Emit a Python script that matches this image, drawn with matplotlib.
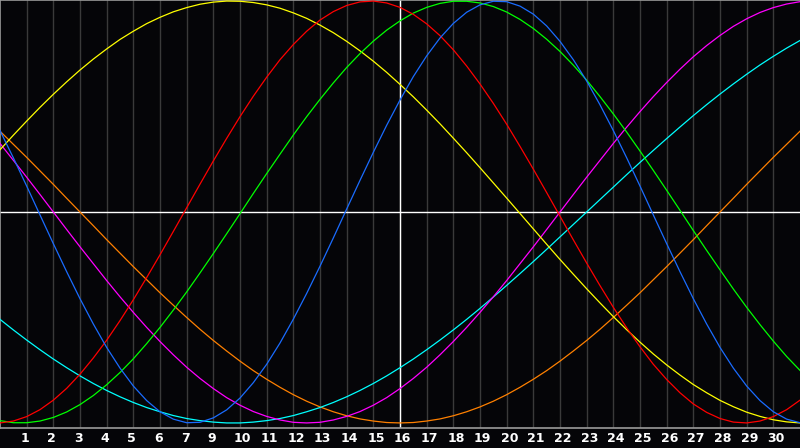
import matplotlib
matplotlib.use('Agg')
import matplotlib.pyplot as plt
from matplotlib.transforms import ScaledTranslation

# half-day steps across the 30 day columns, values in percent (-100..100)
days = [i / 2 for i in range(61)]

yellow = [29.5, 36.4, 43.1, 49.6, 55.8, 61.7, 67.3, 72.5, 77.3, 81.8,
          85.7, 89.3, 92.3, 94.9, 96.9, 98.5, 99.5, 100.0, 99.9, 99.3,
          98.2, 96.6, 94.4, 91.8, 88.6, 85.0, 80.9, 76.4, 71.5, 66.2,
          60.5, 54.6, 48.3, 41.8, 35.0, 28.1, 21.0, 13.8, 6.6, -0.7,
          -8.0, -15.3, -22.5, -29.5, -36.4, -43.1, -49.6, -55.8, -61.7, -67.3,
          -72.5, -77.3, -81.8, -85.7, -89.3, -92.3, -94.9, -96.9, -98.5, -99.5,
          -100.0]
red = [-100.0, -99.1, -97.0, -93.7, -89.2, -83.6, -76.9, -69.2, -60.8, -51.5,
       -41.6, -31.1, -20.3, -9.2, 2.0, 13.2, 24.2, 34.9, 45.2, 54.9,
       63.9, 72.2, 79.4, 85.7, 91.0, 95.0, 97.9, 99.6, 100.0, 99.1,
       97.0, 93.7, 89.2, 83.6, 76.9, 69.2, 60.7, 51.5, 41.6, 31.1,
       20.3, 9.2, -2.0, -13.2, -24.2, -34.9, -45.2, -54.9, -63.9, -72.2,
       -79.4, -85.7, -91.0, -95.0, -97.9, -99.6, -100.0, -99.1, -97.0, -93.7,
       -89.2]
green = [-98.9, -99.9, -99.9, -99.1, -97.4, -94.8, -91.3, -87.0, -81.9, -76.1,
         -69.6, -62.4, -54.7, -46.5, -37.9, -28.9, -19.7, -10.3, -0.8, 8.8,
         18.2, 27.4, 36.5, 45.2, 53.4, 61.2, 68.5, 75.1, 81.0, 86.2,
         90.6, 94.3, 97.0, 98.9, 99.9, 99.9, 99.1, 97.4, 94.8, 91.3,
         87.0, 81.9, 76.1, 69.6, 62.5, 54.7, 46.5, 37.9, 28.9, 19.7,
         10.3, 0.8, -8.8, -18.2, -27.4, -36.5, -45.2, -53.4, -61.2, -68.5,
         -75.1]
blue = [38.6, 25.7, 12.3, -1.4, -15.0, -28.3, -41.1, -53.1, -64.2, -74.0,
        -82.5, -89.4, -94.7, -98.2, -99.9, -99.7, -97.6, -93.8, -88.2, -80.9,
        -72.2, -62.1, -50.8, -38.6, -25.7, -12.3, 1.4, 15.0, 28.3, 41.1,
        53.1, 64.2, 74.0, 82.5, 89.4, 94.7, 98.2, 99.9, 99.7, 97.6,
        93.8, 88.2, 80.9, 72.2, 62.1, 50.8, 38.6, 25.7, 12.3, -1.4,
        -15.0, -28.3, -41.1, -53.1, -64.2, -74.0, -82.5, -89.4, -94.7, -98.2,
        -99.9]
magenta = [32.5, 24.5, 16.5, 8.3, 0.0, -8.3, -16.5, -24.5, -32.5, -40.2,
           -47.6, -54.7, -61.4, -67.7, -73.6, -78.9, -83.7, -88.0, -91.6, -94.6,
           -96.9, -98.6, -99.7, -100.0, -99.7, -98.6, -96.9, -94.6, -91.6, -88.0,
           -83.7, -78.9, -73.6, -67.7, -61.4, -54.7, -47.6, -40.2, -32.5, -24.5,
           -16.5, -8.3, 0.0, 8.3, 16.5, 24.5, 32.5, 40.2, 47.6, 54.7,
           61.4, 67.7, 73.6, 78.9, 83.7, 88.0, 91.6, 94.6, 96.9, 98.6,
           99.7]
cyan = [-50.9, -55.9, -60.7, -65.3, -69.7, -73.8, -77.7, -81.3, -84.6, -87.6,
        -90.3, -92.7, -94.7, -96.5, -97.9, -98.9, -99.6, -100.0, -100.0, -99.6,
        -98.9, -97.9, -96.5, -94.7, -92.7, -90.3, -87.6, -84.6, -81.3, -77.7,
        -73.8, -69.7, -65.3, -60.7, -55.9, -50.9, -45.7, -40.3, -34.8, -29.2,
        -23.5, -17.7, -11.8, -5.9, 0.0, 5.9, 11.8, 17.7, 23.5, 29.2,
        34.8, 40.3, 45.7, 50.9, 55.9, 60.7, 65.3, 69.7, 73.8, 77.7,
        81.3]
orange = [38.3, 32.1, 25.9, 19.5, 13.1, 6.5, 0.0, -6.5, -13.1, -19.5,
          -25.9, -32.1, -38.3, -44.2, -50.0, -55.6, -60.9, -65.9, -70.7, -75.2,
          -79.3, -83.1, -86.6, -89.7, -92.4, -94.7, -96.6, -98.1, -99.1, -99.8,
          -100.0, -99.8, -99.1, -98.1, -96.6, -94.7, -92.4, -89.7, -86.6, -83.1,
          -79.3, -75.2, -70.7, -65.9, -60.9, -55.6, -50.0, -44.2, -38.3, -32.1,
          -25.9, -19.5, -13.1, -6.5, 0.0, 6.5, 13.1, 19.5, 25.9, 32.1,
          38.3]

tick_pos = list(range(1, 30))
tick_labels = ['1', '2', '3', '4', '5', '6', '7', '9', '10', '11', '12', '13', '14', '15',
               '16', '17', '18', '19', '20', '21', '22', '23', '24', '25', '26', '27',
               '28', '29', '30']
today = 15

series = [
    (orange, '#ff8000'),
    (cyan, '#00ffff'),
    (magenta, '#ff00ff'),
    (yellow, '#ffff00'),
    (green, '#00ff00'),
    (red, '#ff0000'),
    (blue, '#1a6cff'),
]

fig = plt.figure(figsize=(8, 4.48), dpi=100, facecolor='#050508')
ax = fig.add_axes([0, 20 / 448, 1, 428 / 448])
ax.set_facecolor('#050508')

ax.set_xlim(0, 30)
ax.set_ylim(-102.4, 100.5)

for x in tick_pos:
    ax.axvline(x, color='#3a3a3a', lw=1.0, zorder=1)

ax.axhline(0, color='white', lw=1.0, zorder=2)
ax.axvline(today, color='white', lw=1.0, zorder=2)

for vals, col in series:
    ax.plot(days, vals, color=col, lw=0.9, zorder=3)

ax.set_xticks(tick_pos)
ax.set_xticklabels(tick_labels, color='white', fontweight='bold', fontsize=9,
                   family='DejaVu Sans', ha='left')
ax.tick_params(axis='x', length=0, pad=3)
shift = ScaledTranslation(-6 / 100, 0, fig.dpi_scale_trans)
for lab in ax.get_xticklabels():
    lab.set_transform(lab.get_transform() + shift)
ax.set_yticks([])

for side in ['top', 'left', 'bottom']:
    ax.spines[side].set_color('#9a9a9a')
    ax.spines[side].set_linewidth(1.2)
ax.spines['right'].set_visible(False)

fig.savefig('out.png', dpi=100, facecolor=fig.get_facecolor())
